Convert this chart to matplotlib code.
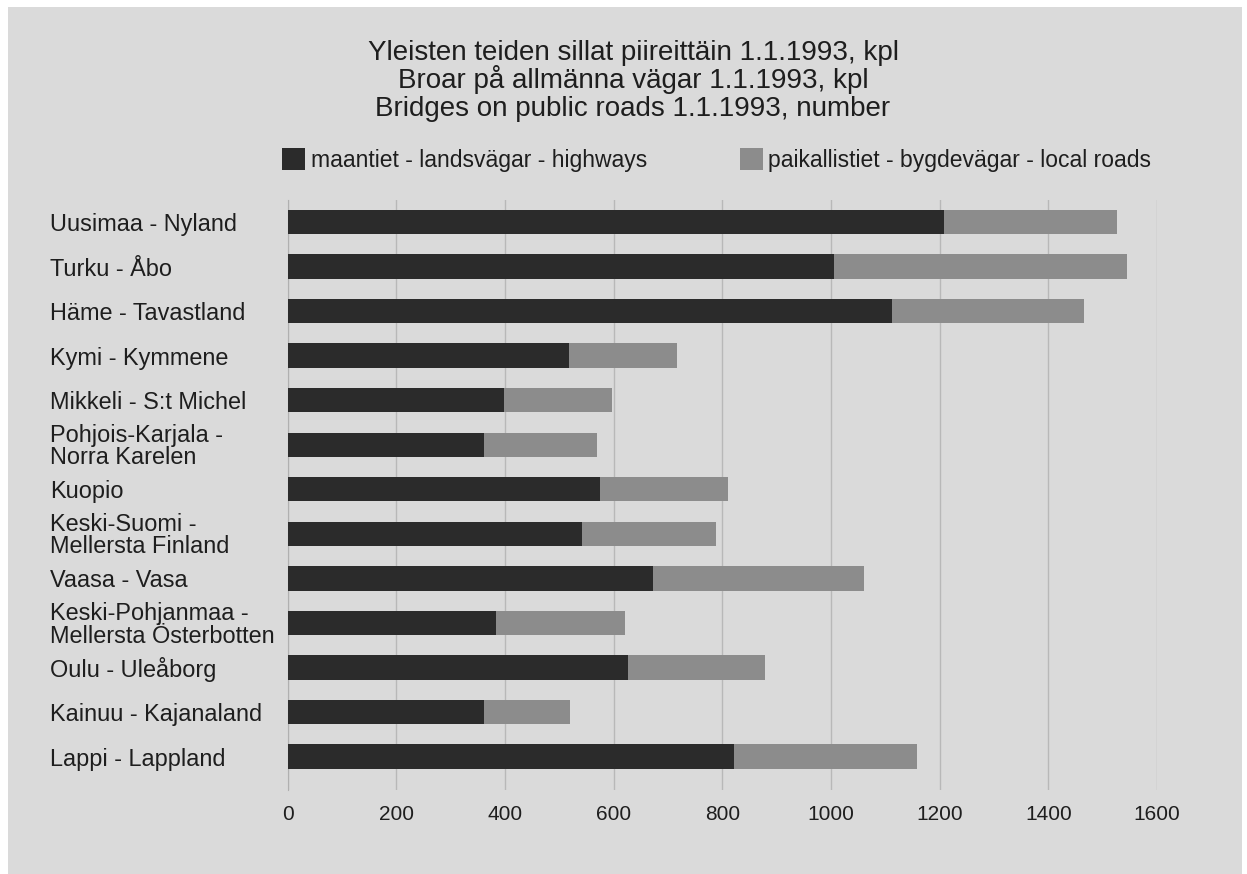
import matplotlib
matplotlib.use("Agg")
import matplotlib.pyplot as plt
from matplotlib.patches import Rectangle
import numpy as np

# districts, top to bottom
districts = [
    "Uusimaa - Nyland",
    "Turku - Åbo",
    "Häme - Tavastland",
    "Kymi - Kymmene",
    "Mikkeli - S:t Michel",
    "Pohjois-Karjala -\nNorra Karelen",
    "Kuopio",
    "Keski-Suomi -\nMellersta Finland",
    "Vaasa - Vasa",
    "Keski-Pohjanmaa -\nMellersta Österbotten",
    "Oulu - Uleåborg",
    "Kainuu - Kajanaland",
    "Lappi - Lappland",
]
highways = [1208, 1005, 1113, 518, 398, 361, 575, 541, 673, 384, 626, 361, 822]
local_roads = [318, 540, 352, 198, 198, 208, 235, 247, 387, 236, 252, 158, 337]

xticks = [0, 200, 400, 600, 800, 1000, 1200, 1400, 1600]

title_lines = ["Yleisten teiden sillat piireittäin 1.1.1993, kpl",
               "Broar på allmänna vägar 1.1.1993, kpl",
               "Bridges on public roads 1.1.1993, number"]
lab_high = "maantiet - landsvägar - highways"
lab_local = "paikallistiet - bygdevägar - local roads"

bg = "#dadada"
dark = "#2b2b2b"
light = "#8c8c8c"
txt = "#1e1e1e"

plt.rcParams['font.family'] = ['Liberation Sans', 'DejaVu Sans']

fig = plt.figure(figsize=(12.47, 8.74), dpi=100)
fig.patch.set_facecolor("white")
# grey panel behind everything
fig.patches.append(Rectangle((8 / 1247, 0), 1234 / 1247, 867 / 874,
                             transform=fig.transFigure, facecolor=bg,
                             edgecolor="none", zorder=-1))

ax = fig.add_axes([287.8 / 1247, 1 - 790 / 874, 869.2 / 1247, 590 / 874])
ax.set_zorder(1)
ax.patch.set_alpha(0)

y = np.arange(len(districts))
h = 0.546
b1 = ax.barh(y, highways, height=h, color=dark, label=lab_high, zorder=3)
b2 = ax.barh(y, local_roads, left=highways, height=h, color=light,
             label=lab_local, zorder=3)

ax.set_xlim(0, 1600)
ax.set_ylim(12.75, -0.494)
ax.set_xticks(xticks)
ax.set_xticklabels([str(t) for t in xticks], fontsize=15, color=txt)
ax.tick_params(axis="x", length=0, pad=11)
ax.grid(axis="x", color="#b8b8b8", linewidth=1, zorder=1)
ax.set_axisbelow(True)

ax.set_yticks(y)
ax.set_yticklabels(districts, fontsize=16.9, color=txt,
                   ha="left", linespacing=0.95)
ax.tick_params(axis="y", length=0, pad=(287.8 - 50) * 0.72)

for s in ["top", "right", "bottom"]:
    ax.spines[s].set_visible(False)
ax.spines["left"].set_color("#b0b0b0")

# title, one line at a time for even spacing
for i, line in enumerate(title_lines):
    fig.text(633 / 1247, 1 - (60 + 28 * i) / 874, line, ha="center",
             va="baseline", fontsize=20, color=txt)

fig.legend(handles=[b1, b2], loc="center left",
           bbox_to_anchor=(282 / 1247, 1 - 160 / 874), ncol=2,
           frameon=False, fontsize=16.5, handlelength=1.0, handleheight=1.05,
           handletextpad=0.25, columnspacing=4.05, borderpad=0,
           borderaxespad=0, labelcolor=txt)

fig.savefig("out.png", dpi=100, facecolor="white")
